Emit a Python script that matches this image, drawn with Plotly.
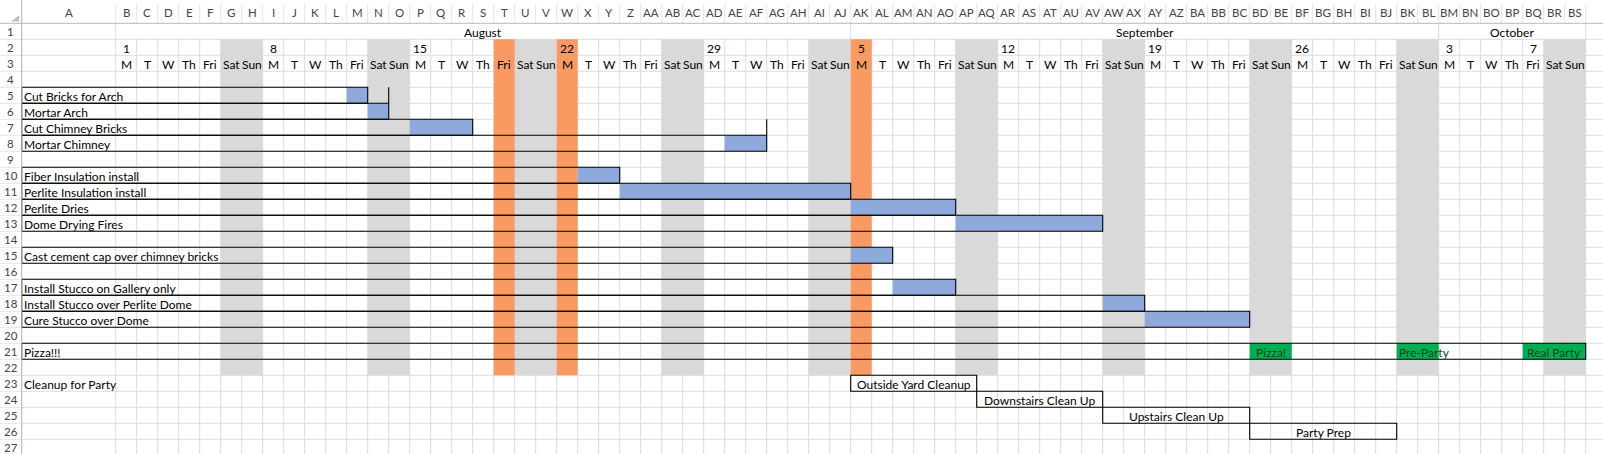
import plotly.graph_objects as go

# ---------------- data ----------------
COLS = ("A B C D E F G H I J K L M N O P Q R S T U V W X Y Z "
        "AA AB AC AD AE AF AG AH AI AJ AK AL AM AN AO AP AQ AR AS AT AU AV AW AX AY AZ "
        "BA BB BC BD BE BF BG BH BI BJ BK BL BM BN BO BP BQ BR BS").split()
N_ROWS = 27
WEEKDAYS = ["M", "T", "W", "Th", "Fri", "Sat", "Sun"]
WEEKEND = ["Sat", "Sun"]
DAY_NUMBERS = [("B", "1"), ("I", "8"), ("P", "15"), ("W", "22"), ("AD", "29"), ("AK", "5"),
               ("AR", "12"), ("AY", "19"), ("BF", "26"), ("BM", "3"), ("BQ", "7")]
MONTHS = ["August", "September", "October"]
MONTH_START = ["B", "AK", "BM"]
MONTH_END = ["AJ", "BL", "BS"]
HIGHLIGHT_COLS = ["T", "W", "AK"]
SHADE_ROWS = (2, 22)

TASK_ROWS = [5, 6, 7, 8, 10, 11, 12, 13, 15, 17, 18, 19]
TASK_NAMES = ["Cut Bricks for Arch", "Mortar Arch", "Cut Chimney Bricks", "Mortar Chimney",
              "Fiber Insulation install", "Perlite Insulation install", "Perlite Dries",
              "Dome Drying Fires", "Cast cement cap over chimney bricks",
              "Install Stucco on Gallery only", "Install Stucco over Perlite Dome",
              "Cure Stucco over Dome"]
TASK_START = ["M", "N", "P", "AE", "X", "Z", "AK", "AP", "AK", "AM", "AW", "AY"]
TASK_END = ["M", "N", "R", "AF", "Y", "AJ", "AO", "AV", "AL", "AO", "AX", "BC"]
EXTRA_RIGHT_BORDERS = [(5, "N"), (7, "AF")]

MILESTONE_ROW = 21
MILESTONE_TITLE = "Pizza!!!"
MILESTONE_END_COL = "BS"
MILESTONE_LABELS = ["Pizza!", "Pre-Party", "Real Party"]
MILESTONE_START = ["BD", "BK", "BQ"]
MILESTONE_END = ["BE", "BL", "BS"]
MILESTONE_ALIGN = ["center", "left", "center"]

CLEANUP_TITLE_ROW = 23
CLEANUP_TITLE = "Cleanup for Party"
CLEANUP_ROWS = [23, 24, 25, 26]
CLEANUP_NAMES = ["Outside Yard Cleanup", "Downstairs Clean Up", "Upstairs Clean Up", "Party Prep"]
CLEANUP_START = ["AK", "AQ", "AW", "BD"]
CLEANUP_END = ["AP", "AV", "BC", "BJ"]

# ---------------- styling / geometry ----------------
W, H = 1603, 454
COL_PX, ROW_PX = 21.0, 16.0
A_PX, RH_PX, CH_PX = 94.0, 21.7, 23.3
A_W = A_PX / COL_PX
RH_W = RH_PX / COL_PX
CH_H = CH_PX / ROW_PX
X0 = -A_W - RH_W
X1 = X0 + W / COL_PX
Y0 = -CH_H
Y1 = Y0 + H / ROW_PX

GRID = "#DCDCDC"
GRAY = "#D9D9D9"
ORANGE = "#F99A62"
BLUE = "#8EA9DB"
GREEN = "#00B050"
GREEN_TXT = "#12401F"
FONT = "Lato"
FS = 12


def col_left(c):
    i = COLS.index(c)
    return -A_W if i == 0 else i - 1


def col_right(c):
    return col_left(c) + (A_W if COLS.index(c) == 0 else 1)


def col_center(c):
    return (col_left(c) + col_right(c)) / 2


shapes = []
ann = []


def line(x0, y0, x1, y1, color, width=1):
    shapes.append(dict(type="line", xref="x", yref="y", x0=x0, y0=y0, x1=x1, y1=y1,
                       line=dict(color=color, width=width), layer="below"))


def rect(x0, y0, x1, y1, fill=None, border=None, width=1):
    shapes.append(dict(type="rect", xref="x", yref="y", x0=x0, y0=y0, x1=x1, y1=y1,
                       fillcolor=fill if fill else "rgba(0,0,0,0)",
                       line=dict(color=border if border else "rgba(0,0,0,0)",
                                 width=width if border else 0),
                       layer="below"))


def text(x, y, s, anchor="center", color="#000000", size=FS):
    ann.append(dict(x=x, y=y, xref="x", yref="y", text=s, showarrow=False,
                    xanchor=anchor, yanchor="middle",
                    font=dict(family=FONT, size=size, color=color)))


day_cols = COLS[1:]
month_edges = set([col_left(c) for c in MONTH_START] + [col_right(c) for c in MONTH_END])

# gridlines
for c in COLS:
    xl = col_left(c)
    ytop = 0 if (c == "A" or xl in month_edges) else 1
    line(xl, ytop, xl, Y1, GRID)
line(col_right(COLS[-1]), 0, col_right(COLS[-1]), Y1, GRID)
for r in range(1, N_ROWS + 1):
    line(-A_W, r, X1, r, GRID)

# weekend shading & highlights
for i, c in enumerate(day_cols):
    if WEEKDAYS[i % 7] in WEEKEND:
        rect(col_left(c), SHADE_ROWS[0] - 1, col_right(c), SHADE_ROWS[1], fill=GRAY)
for c in HIGHLIGHT_COLS:
    rect(col_left(c), SHADE_ROWS[0] - 1, col_right(c), SHADE_ROWS[1], fill=ORANGE)

# task bars
for r, s, e in zip(TASK_ROWS, TASK_START, TASK_END):
    rect(col_left(s), r - 1, col_right(e), r, fill=BLUE)
for s, e in zip(MILESTONE_START, MILESTONE_END):
    rect(col_left(s), MILESTONE_ROW - 1, col_right(e), MILESTONE_ROW, fill=GREEN)

# black borders
for r, e in zip(TASK_ROWS, TASK_END):
    rect(-A_W, r - 1, col_right(e), r, border="#000000", width=1.1)
for r, c in EXTRA_RIGHT_BORDERS:
    line(col_right(c), r - 1, col_right(c), r, "#000000", 1.1)
rect(-A_W, MILESTONE_ROW - 1, col_right(MILESTONE_END_COL), MILESTONE_ROW, border="#000000", width=1.1)
for r, s, e in zip(CLEANUP_ROWS, CLEANUP_START, CLEANUP_END):
    rect(col_left(s), r - 1, col_right(e), r, border="#000000", width=1.1)

# headers
for c in COLS + ["BT"]:
    xl = col_left(c) if c != "BT" else col_right("BS")
    line(xl, Y0 + 0.25, xl, 0, "#E4E4E4")
for r in range(1, N_ROWS + 1):
    line(X0, r, -A_W, r, "#E4E4E4")
line(X0, 0, X1, 0, "#B8B8B8")
line(-A_W, Y0, -A_W, Y1, "#B8B8B8")
shapes.append(dict(type="path", xref="x", yref="y",
                   path=f"M {-A_W - 0.12},{-0.5} L {-A_W - 0.12},{-0.12} L {-A_W - 0.5},{-0.12} Z",
                   fillcolor="#BFBFBF", line=dict(width=0), layer="below"))

for c in COLS:
    text(col_center(c), Y0 / 2 + 0.03, c, color="#444444", size=11.5)
for r in range(1, N_ROWS + 1):
    text((X0 + -A_W) / 2, r - 0.5 + 0.04, str(r), color="#444444", size=11.5)

# calendar header text
for m, s, e in zip(MONTHS, MONTH_START, MONTH_END):
    text((col_left(s) + col_right(e)) / 2, 0.56, m)
for c, lab in DAY_NUMBERS:
    text(col_center(c), 1.56, lab)
for i, c in enumerate(day_cols):
    text(col_center(c), 2.56, WEEKDAYS[i % 7])

# task names
for r, n in zip(TASK_ROWS, TASK_NAMES):
    text(-A_W + 0.03, r - 0.44, n, anchor="left")
text(-A_W + 0.03, MILESTONE_ROW - 0.44, MILESTONE_TITLE, anchor="left")
for lab, s, e, al in zip(MILESTONE_LABELS, MILESTONE_START, MILESTONE_END, MILESTONE_ALIGN):
    if al == "center":
        text((col_left(s) + col_right(e)) / 2, MILESTONE_ROW - 0.44, lab, color=GREEN_TXT)
    else:
        text(col_left(s) + 0.03, MILESTONE_ROW - 0.44, lab, anchor="left", color=GREEN_TXT)
text(-A_W + 0.03, CLEANUP_TITLE_ROW - 0.44, CLEANUP_TITLE, anchor="left")
for r, n, s, e in zip(CLEANUP_ROWS, CLEANUP_NAMES, CLEANUP_START, CLEANUP_END):
    text((col_left(s) + col_right(e)) / 2, r - 0.44, n)

fig = go.Figure()
fig.add_trace(go.Scatter(x=[X0], y=[Y0], mode="markers", marker=dict(opacity=0),
                         hoverinfo="skip", showlegend=False))
fig.update_layout(
    width=W, height=H, margin=dict(l=0, r=0, t=0, b=0, pad=0),
    paper_bgcolor="white", plot_bgcolor="white",
    shapes=shapes, annotations=ann, showlegend=False,
    xaxis=dict(range=[X0, X1], visible=False, fixedrange=True),
    yaxis=dict(range=[Y1, Y0], visible=False, fixedrange=True),
)
fig.write_html("out.html")
